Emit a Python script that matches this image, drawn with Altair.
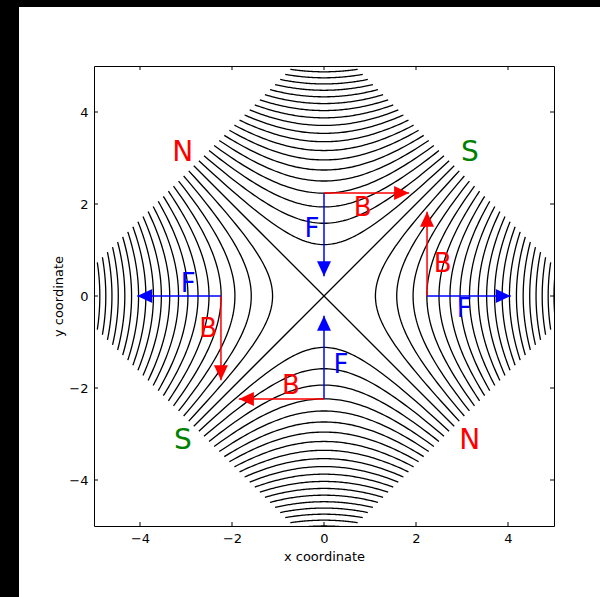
import altair as alt
import numpy as np
import pandas as pd

# ---- data ----
# contour levels of x^2 - y^2 (vertices at sqrt(|c|) on the axes)
levels = [-25.0, -23.75, -22.5, -21.25, -20.0, -18.75, -17.5, -16.25, -15.0, -13.75,
          -12.5, -11.25, -10.0, -8.75, -7.5, -6.25, -5.0, -3.75, -2.5, -1.25, 0.0,
          1.25, 2.5, 3.75, 5.0, 6.25, 7.5, 8.75, 10.0, 11.25, 12.5, 13.75, 15.0,
          16.25, 17.5, 18.75, 20.0, 21.25, 22.5, 23.75, 25.0]
domain_half_diagonal = 5.66   # contour domain: |x| + |y| <= 5.66

tick_values = [-4, -2, 0, 2, 4]

# arrows: start point, tip, colour, direction (degrees clockwise from up)
arrow_x0 = [0.0, 0.0, 2.24, 2.24, 0.0, 0.0, -2.24, -2.24]
arrow_y0 = [2.24, 2.24, 0.0, 0.0, -2.24, -2.24, 0.0, 0.0]
arrow_x1 = [0.0, 1.85, 2.24, 4.06, 0.0, -1.85, -2.24, -4.06]
arrow_y1 = [0.43, 2.24, 1.83, 0.0, -0.43, -2.24, -1.83, 0.0]
arrow_color = ["#0000ff", "#ff0000", "#ff0000", "#0000ff",
               "#0000ff", "#ff0000", "#ff0000", "#0000ff"]
arrow_angle = [180, 90, 0, 90, 0, 270, 180, 270]

# F / B labels
label_text = ["F", "B", "B", "F", "F", "B", "B", "F"]
label_x = [-0.26, 0.84, 2.58, 3.05, 0.37, -0.72, -2.52, -2.95]
label_y = [1.46, 1.91, 0.70, -0.28, -1.50, -1.95, -0.72, 0.26]
label_color = ["#0000ff", "#ff0000", "#ff0000", "#0000ff",
               "#0000ff", "#ff0000", "#ff0000", "#0000ff"]

# pole labels
pole_text = ["N", "S", "S", "N"]
pole_x = [-3.07, 3.17, -3.07, 3.17]
pole_y = [3.11, 3.11, -3.15, -3.15]
pole_color = ["#ff0000", "#008000", "#008000", "#ff0000"]

# ---- build contour lines (hyperbolas x^2 - y^2 = c inside the rotated square) ----
R = domain_half_diagonal
rows = []
lid = 0
for c in levels:
    if c == 0:
        for s in (1, -1):
            for i, u in enumerate([-R / 2, R / 2]):
                rows.append((lid, i, u, s * u))
            lid += 1
        continue
    a = np.sqrt(abs(c))
    tmax = np.log(R / a)
    t = np.linspace(-tmax, tmax, 81)
    for s in (1, -1):
        p = s * a * np.cosh(t)
        q = a * np.sinh(t)
        xx, yy = (p, q) if c > 0 else (q, p)
        for i in range(len(t)):
            rows.append((lid, i, float(xx[i]), float(yy[i])))
        lid += 1
contours = pd.DataFrame(rows, columns=["lid", "i", "x", "y"])

arrows = pd.DataFrame({"x": arrow_x0, "y": arrow_y0, "x2": arrow_x1, "y2": arrow_y1,
                       "color": arrow_color, "angle": arrow_angle})
heads = pd.DataFrame({"x": arrow_x1, "y": arrow_y1, "color": arrow_color, "angle": arrow_angle})
labels = pd.DataFrame({"x": label_x, "y": label_y, "text": label_text, "color": label_color})
poles = pd.DataFrame({"x": pole_x, "y": pole_y, "text": pole_text, "color": pole_color})
xticks = pd.DataFrame({"x": tick_values})
yticks = pd.DataFrame({"y": tick_values})
one = pd.DataFrame({"k": [0]})

W = H = 460
FONT = "DejaVu Sans"

sx = alt.Scale(domain=[-5, 5], nice=False, zero=False)
sy = alt.Scale(domain=[-5, 5], nice=False, zero=False)
xaxis = alt.Axis(values=tick_values, title="x coordinate", grid=False, domain=False,
                 tickSize=0, labelFont=FONT, labelFontSize=13, labelColor="black",
                 labelPadding=6, titleFont=FONT, titleFontSize=13, titleFontWeight="normal",
                 titleColor="black", titlePadding=5, zindex=1)
yaxis = alt.Axis(values=tick_values, title="y coordinate", grid=False, domain=False,
                 tickSize=0, labelFont=FONT, labelFontSize=13, labelColor="black",
                 labelPadding=6, titleFont=FONT, titleFontSize=13, titleFontWeight="normal",
                 titleColor="black", titlePadding=3, zindex=1)
X = alt.X("x:Q", scale=sx, axis=xaxis)
Y = alt.Y("y:Q", scale=sy, axis=yaxis)

# black strips of the screenshot (left and top)
strip_left = alt.Chart(one).mark_rect(color="black").encode(
    x=alt.value(-94), x2=alt.value(-75), y=alt.value(-66), y2=alt.value(531))
strip_top = alt.Chart(one).mark_rect(color="black").encode(
    x=alt.value(-94), x2=alt.value(506), y=alt.value(-66), y2=alt.value(-59))

lines = alt.Chart(contours).mark_line(color="black", strokeWidth=1.3, clip=True).encode(
    x=X, y=Y, detail="lid:N", order="i:Q")

tick_b = alt.Chart(xticks).mark_rule(color="black", strokeWidth=1).encode(
    x=X, y=alt.value(H), y2=alt.value(H - 4))
tick_t = alt.Chart(xticks).mark_rule(color="black", strokeWidth=1).encode(
    x=X, y=alt.value(0), y2=alt.value(4))
tick_l = alt.Chart(yticks).mark_rule(color="black", strokeWidth=1).encode(
    y=Y, x=alt.value(0), x2=alt.value(4))
tick_r = alt.Chart(yticks).mark_rule(color="black", strokeWidth=1).encode(
    y=Y, x=alt.value(W), x2=alt.value(W - 4))

shafts = alt.Chart(arrows).mark_rule(strokeWidth=1.5).encode(
    x=X, y=Y, x2="x2:Q", y2="y2:Q", color=alt.Color("color:N", scale=None))

tips = alt.Chart(heads).mark_point(
    shape="M0,0L-0.93,2L0.93,2Z", filled=True, size=225, opacity=1, strokeWidth=0
).encode(x=X, y=Y, angle=alt.Angle("angle:Q", scale=None),
         color=alt.Color("color:N", scale=None))

fb_text = alt.Chart(labels).mark_text(font=FONT, fontSize=26, align="center",
                                      baseline="middle").encode(
    x=X, y=Y, text="text:N", color=alt.Color("color:N", scale=None))

ns_text = alt.Chart(poles).mark_text(font=FONT, fontSize=28, align="center",
                                     baseline="middle").encode(
    x=X, y=Y, text="text:N", color=alt.Color("color:N", scale=None))

chart = alt.layer(
    strip_left, strip_top, lines, tick_b, tick_t, tick_l, tick_r, shafts, tips, fb_text, ns_text
).properties(
    width=W, height=H,
    padding={"left": 94, "top": 66, "right": 46, "bottom": 71},
    autosize=alt.AutoSizeParams(type="none"),
).configure(background="white").configure_view(stroke="black", strokeWidth=1)

chart.save("out.html", embed_options={"renderer": "svg", "actions": False})
